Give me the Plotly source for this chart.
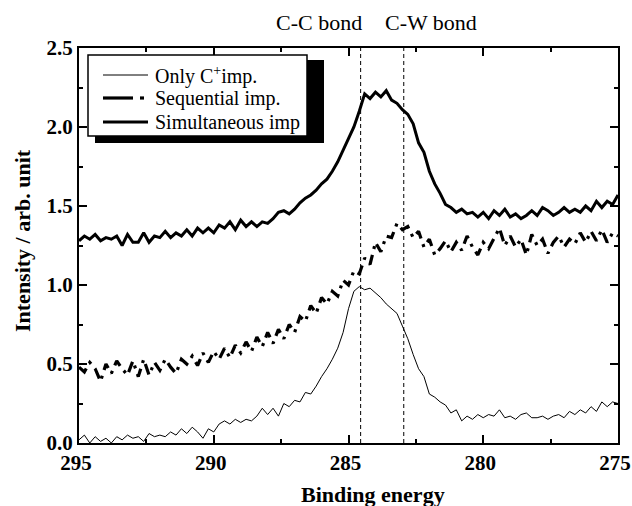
import numpy as np
import plotly.graph_objects as go

# Binding energy grid (eV), 295 -> 275 in 0.2 eV steps
energy = np.round(np.linspace(295.0, 275.0, 101), 1)

only_c = [0.02, 0.05, 0.00, 0.04, 0.01, 0.03, 0.00, 0.04, 0.02, 0.05,
          0.03, 0.04, 0.01, 0.06, 0.04, 0.05, 0.04, 0.07, 0.05, 0.09,
          0.06, 0.10, 0.07, 0.03, 0.09, 0.07, 0.12, 0.14, 0.12, 0.15,
          0.13, 0.15, 0.14, 0.17, 0.22, 0.18, 0.22, 0.17, 0.25, 0.23,
          0.27, 0.26, 0.32, 0.31, 0.36, 0.42, 0.47, 0.53, 0.60, 0.70,
          0.85, 0.96, 0.99, 0.97, 0.98, 0.95, 0.92, 0.88, 0.85, 0.82,
          0.74, 0.66, 0.56, 0.47, 0.42, 0.31, 0.29, 0.26, 0.24, 0.19,
          0.21, 0.14, 0.17, 0.15, 0.18, 0.16, 0.18, 0.17, 0.21, 0.16,
          0.17, 0.15, 0.18, 0.19, 0.16, 0.16, 0.17, 0.15, 0.17, 0.18,
          0.16, 0.20, 0.18, 0.21, 0.19, 0.23, 0.20, 0.26, 0.23, 0.26,
          0.25]

sequential = [0.48, 0.45, 0.51, 0.47, 0.39, 0.50, 0.44, 0.52, 0.47, 0.43,
              0.52, 0.42, 0.53, 0.43, 0.51, 0.46, 0.53, 0.48, 0.44, 0.53,
              0.50, 0.55, 0.49, 0.57, 0.51, 0.58, 0.53, 0.60, 0.54, 0.62,
              0.57, 0.64, 0.58, 0.67, 0.61, 0.70, 0.63, 0.72, 0.66, 0.75,
              0.70, 0.80, 0.77, 0.87, 0.82, 0.92, 0.88, 0.96, 0.93, 1.03,
              1.00, 1.09, 1.07, 1.17, 1.13, 1.27, 1.21, 1.31, 1.30, 1.39,
              1.35, 1.37, 1.30, 1.34, 1.24, 1.29, 1.19, 1.23, 1.28, 1.21,
              1.27, 1.22, 1.31, 1.24, 1.19, 1.27, 1.23, 1.30, 1.36, 1.25,
              1.31, 1.24, 1.29, 1.19, 1.32, 1.25, 1.29, 1.20, 1.27, 1.31,
              1.24, 1.29, 1.26, 1.33, 1.27, 1.34, 1.28, 1.35, 1.27, 1.33,
              1.31]

simultaneous = [1.28, 1.31, 1.29, 1.32, 1.28, 1.30, 1.29, 1.31, 1.25, 1.32,
                1.27, 1.27, 1.33, 1.27, 1.31, 1.30, 1.34, 1.30, 1.33, 1.31,
                1.35, 1.31, 1.36, 1.33, 1.36, 1.33, 1.38, 1.36, 1.40, 1.35,
                1.41, 1.37, 1.40, 1.37, 1.40, 1.39, 1.42, 1.46, 1.47, 1.45,
                1.48, 1.52, 1.55, 1.57, 1.60, 1.64, 1.67, 1.72, 1.78, 1.85,
                1.92, 2.00, 2.10, 2.21, 2.18, 2.22, 2.19, 2.23, 2.17, 2.15,
                2.11, 2.08, 2.02, 1.90, 1.84, 1.72, 1.64, 1.58, 1.51, 1.49,
                1.46, 1.48, 1.45, 1.46, 1.43, 1.46, 1.42, 1.47, 1.44, 1.48,
                1.43, 1.45, 1.42, 1.44, 1.47, 1.44, 1.49, 1.47, 1.44, 1.46,
                1.49, 1.46, 1.48, 1.46, 1.50, 1.47, 1.53, 1.49, 1.53, 1.51,
                1.57]

series_names = ["Only C<sup>+</sup>imp.", "Sequential imp.", "Simultaneous imp"]
bond_positions = [284.55, 282.95]
bond_labels = ["C-C bond", "C-W bond"]
x_ticks = [295, 290, 285, 280, 275]
y_ticks = [0.0, 0.5, 1.0, 1.5, 2.0, 2.5]

SERIF = "Liberation Serif"
W, H = 632, 506
L, R, T, B = 79, 618, 48, 443


def px2paper(px, py):
    return (px - L) / (R - L), (B - py) / (B - T)


fig = go.Figure()
fig.add_trace(go.Scatter(x=energy, y=only_c, mode="lines",
                         line=dict(color="black", width=1), name=series_names[0]))
fig.add_trace(go.Scatter(x=energy, y=sequential, mode="lines",
                         line=dict(color="black", width=3.2, dash="11px,6px,3px,6px"),
                         name=series_names[1]))
fig.add_trace(go.Scatter(x=energy, y=simultaneous, mode="lines",
                         line=dict(color="black", width=3), name=series_names[2]))

shapes = []
for bp in bond_positions:
    shapes.append(dict(type="line", xref="x", yref="y", x0=bp, x1=bp, y0=0, y1=2.5,
                       line=dict(color="black", width=1, dash="4px,3px")))

# Legend box with shadow (manual)
sx0, sy0 = px2paper(95, 60)
sx1, sy1 = px2paper(324, 143)
shapes.append(dict(type="rect", xref="paper", yref="paper", x0=sx0, x1=sx1, y0=sy1, y1=sy0,
                   fillcolor="black", line=dict(width=0), layer="above"))
bx0, by0 = px2paper(88, 55)
bx1, by1 = px2paper(307, 136)
shapes.append(dict(type="rect", xref="paper", yref="paper", x0=bx0, x1=bx1, y0=by1, y1=by0,
                   fillcolor="white", line=dict(color="black", width=1.5), layer="above"))
rows = [75, 98, 122]
a0, ay = px2paper(103, rows[0]); a1, _ = px2paper(148, rows[0])
shapes.append(dict(type="line", xref="paper", yref="paper", x0=a0, x1=a1, y0=ay, y1=ay,
                   line=dict(color="black", width=1), layer="above"))
a0, ay = px2paper(103, rows[1]); a1, _ = px2paper(133, rows[1])
shapes.append(dict(type="line", xref="paper", yref="paper", x0=a0, x1=a1, y0=ay, y1=ay,
                   line=dict(color="black", width=3.2), layer="above"))
a0, ay = px2paper(140, rows[1]); a1, _ = px2paper(144, rows[1])
shapes.append(dict(type="line", xref="paper", yref="paper", x0=a0, x1=a1, y0=ay, y1=ay,
                   line=dict(color="black", width=3.2), layer="above"))
a0, ay = px2paper(103, rows[2]); a1, _ = px2paper(148, rows[2])
shapes.append(dict(type="line", xref="paper", yref="paper", x0=a0, x1=a1, y0=ay, y1=ay,
                   line=dict(color="black", width=3), layer="above"))

annotations = []
for name, ry in zip(series_names, rows):
    tx, ty = px2paper(153, ry)
    annotations.append(dict(text=name, xref="paper", yref="paper", x=tx, y=ty,
                            xanchor="left", yanchor="middle", showarrow=False,
                            font=dict(family=SERIF, size=20, color="black")))

for lbl, cx in zip(bond_labels, [319, 431]):
    tx, ty = px2paper(cx, 22)
    annotations.append(dict(text=lbl, xref="paper", yref="paper", x=tx, y=ty,
                            xanchor="center", yanchor="middle", showarrow=False,
                            font=dict(family=SERIF, size=22, color="black")))

tx, ty = px2paper(22, 241)
annotations.append(dict(text="<b>Intensity / arb. unit</b>", xref="paper", yref="paper",
                        x=tx, y=ty, xanchor="center", yanchor="middle", textangle=-90,
                        showarrow=False, font=dict(family=SERIF, size=22, color="black")))
tx, ty = px2paper(373, 494)
annotations.append(dict(text="<b>Binding energy</b>", xref="paper", yref="paper",
                        x=tx, y=ty, xanchor="center", yanchor="middle",
                        showarrow=False, font=dict(family=SERIF, size=22, color="black")))

axis_common = dict(showline=True, linecolor="black", linewidth=2, mirror="ticks",
                   ticks="inside", ticklen=8, tickwidth=1.5, tickcolor="black",
                   showgrid=False, zeroline=False, ticklabeloverflow="allow",
                   tickfont=dict(family=SERIF, size=21, color="black", weight="bold"))

fig.update_layout(
    width=W, height=H,
    margin=dict(l=L, r=W - R, t=T, b=H - B, autoexpand=False),
    paper_bgcolor="white", plot_bgcolor="white",
    showlegend=False,
    xaxis=dict(range=[295, 275], tickvals=x_ticks, ticklabelshift=3,
               minor=dict(ticks="inside", ticklen=4, dtick=2.5, tick0=275, tickcolor="black"),
               **axis_common),
    yaxis=dict(range=[0, 2.5], tickvals=y_ticks, tickformat=".1f",
               minor=dict(ticks="inside", ticklen=4, dtick=0.25, tick0=0, tickcolor="black"),
               **axis_common),
    shapes=shapes,
    annotations=annotations,
)

fig.write_html("out.html")
